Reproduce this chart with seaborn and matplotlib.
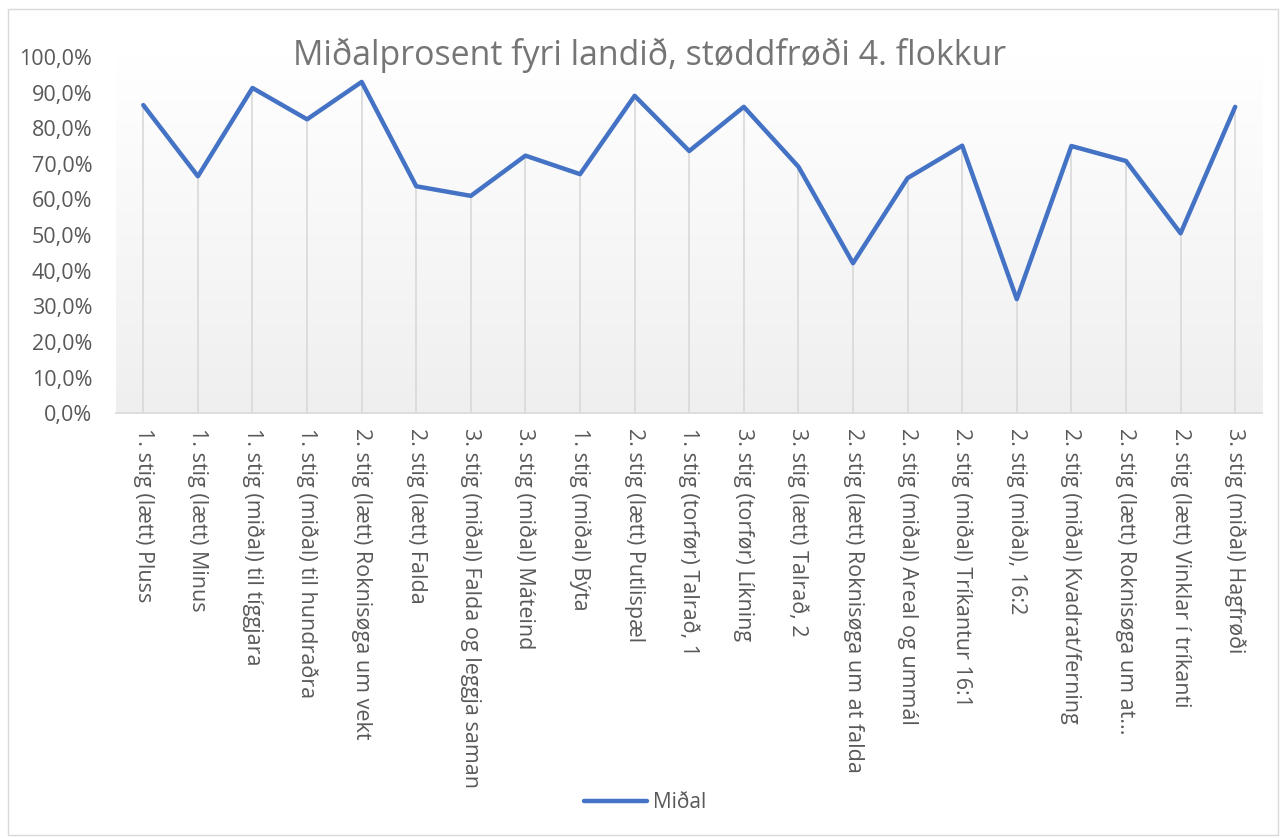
import numpy as np
import pandas as pd
import matplotlib
matplotlib.use("Agg")
import matplotlib.pyplot as plt
import seaborn as sns
from matplotlib.patches import Rectangle
from matplotlib.ticker import FuncFormatter

# Data
categories = [
    "1. stig (lætt) Pluss",
    "1. stig (lætt) Minus",
    "1. stig (miðal) til tíggjara",
    "1. stig (miðal) til hundraðra",
    "2. stig (lætt) Roknisøga um vekt",
    "2. stig (lætt) Falda",
    "3. stig (miðal) Falda og leggja saman",
    "3. stig (miðal) Máteind",
    "1. stig (miðal) Býta",
    "2. stig (lætt) Putlispæl",
    "1. stig (torfør) Talrað, 1",
    "3. stig (torfør) Líkning",
    "3. stig (lætt) Talrað, 2",
    "2. stig (lætt) Roknisøga um at falda",
    "2. stig (miðal) Areal og ummál",
    "2. stig (miðal) Tríkantur 16:1",
    "2. stig (miðal), 16:2",
    "2. stig (miðal) Kvadrat/ferning",
    "2. stig (lætt) Roknisøga um at...",
    "2. stig (lætt) Vinklar í tríkanti",
    "3. stig (miðal) Hagfrøði",
]
midal = [86.5, 66.5, 91.3, 82.5, 93.0, 63.7, 61.0, 72.3, 67.1, 89.1, 73.6,
         86.0, 69.2, 42.1, 66.0, 75.1, 32.0, 75.0, 70.8, 50.5, 86.0]

title = "Miðalprosent fyri landið, støddfrøði 4. flokkur"
series_name = "Miðal"

df = pd.DataFrame({"kategori": categories, "prosent": midal})

sns.set_style("white")
plt.rcParams["font.family"] = ["Open Sans", "DejaVu Sans"]

fig = plt.figure(figsize=(12.83, 8.38), dpi=100)
ax = fig.add_axes([0.0904, 0.507, 0.8936, 0.425])

# gradient background of the plot area
grad = np.linspace(0, 1, 256).reshape(-1, 1)
ax.imshow(grad, extent=[0, 1, 0, 1], transform=ax.transAxes, aspect="auto",
          cmap=matplotlib.colors.LinearSegmentedColormap.from_list("g", ["#efefef", "#ffffff"]),
          origin="lower", zorder=0)

pos = np.arange(len(categories))
ax.vlines(pos, 0, df["prosent"], color="#d9d9d9", lw=1.2, zorder=1)
sns.lineplot(data=df, x="kategori", y="prosent", ax=ax, color="#4472C4",
             lw=3.2, sort=False, label=series_name, zorder=3, legend=False)

ax.set_xlim(-0.5, len(categories) - 0.5)
ax.set_ylim(0, 100)
ax.set_yticks(np.arange(0, 101, 10))
ax.yaxis.set_major_formatter(FuncFormatter(lambda v, p: f"{v:.1f}%".replace(".", ",")))
ax.set_xticks(pos)
ax.set_xticklabels(categories, rotation=-90, va="top", ha="center")
ax.tick_params(axis="y", labelsize=15.5, colors="#595959", length=0, pad=17)
ax.tick_params(axis="x", labelsize=15.5, colors="#595959", length=0, pad=11)
ax.set_xlabel("")
ax.set_ylabel("")
for s in ["top", "right", "left"]:
    ax.spines[s].set_visible(False)
ax.spines["bottom"].set_color("#d9d9d9")
ax.spines["bottom"].set_linewidth(1.2)

fig.text(0.506, 0.934, title, ha="center", va="center", fontsize=24.4, color="#757575")

handles = [plt.Line2D([], [], color="#4472C4", lw=3.2)]
fig.legend(handles, [series_name], loc="center", bbox_to_anchor=(0.503, 0.042),
           frameon=False, fontsize=15, labelcolor="#595959", handlelength=3.0,
           handletextpad=0.3)

# chart border
fig.patches.append(Rectangle((0.006, 0.004), 0.99, 0.985, transform=fig.transFigure,
                             fill=False, edgecolor="#d9d9d9", lw=1))

fig.savefig("out.png", dpi=100)
